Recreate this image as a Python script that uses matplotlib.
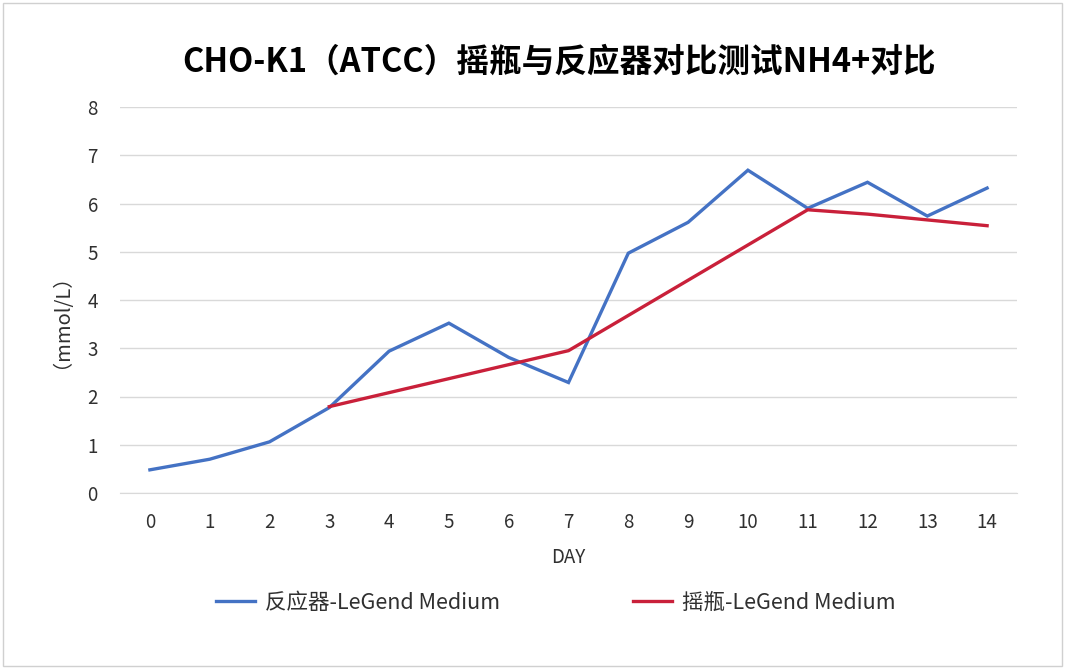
import matplotlib
matplotlib.use("Agg")
import matplotlib.pyplot as plt
import numpy as np
from matplotlib.patches import Rectangle

plt.rcParams["font.family"] = ["Noto Sans CJK SC", "DejaVu Sans"]

# data
days = list(range(15))
reactor = [0.48, 0.70, 1.06, 1.77, 2.94, 3.52, 2.81, 2.29, 4.97, 5.61,
           6.69, 5.90, 6.44, 5.74, 6.32]
flask_days = [3, 7, 11, 12, 13, 14]
flask = [1.79, 2.95, 5.87, 5.78, 5.66, 5.54]

title = "CHO-K1（ATCC）摇瓶与反应器对比测试NH4+对比"
reactor_label = "反应器-LeGend Medium"
flask_label = "摇瓶-LeGend Medium"

fig = plt.figure(figsize=(10.65, 6.69), dpi=100)
ax = fig.add_axes([120 / 1065, 1 - 493 / 669, 897 / 1065, 386 / 669])

# outer chart border
fig.patches.append(Rectangle((3 / 1065, 3 / 669), 1 - 6 / 1065, 1 - 6 / 669,
                             transform=fig.transFigure, fill=False,
                             edgecolor="#d0d0d0", linewidth=1))

ax.plot(days, reactor, color="#4472C4", linewidth=2.4, label=reactor_label,
        solid_joinstyle="miter")
ax.plot(flask_days, flask, color="#C9203A", linewidth=2.4, label=flask_label,
        solid_joinstyle="miter")

ax.set_xlim(-0.5, 14.5)
ax.set_ylim(0, 8)
ax.set_xticks(days)
ax.set_yticks(range(9))
ax.grid(axis="y", color="#d9d9d9", linewidth=1)
ax.set_axisbelow(True)
for side in ["top", "right", "left"]:
    ax.spines[side].set_visible(False)
ax.spines["bottom"].set_color("#d9d9d9")
ax.tick_params(axis="both", length=0, labelsize=13.5, colors="#303030")
ax.tick_params(axis="x", pad=14)
ax.tick_params(axis="y", pad=16)

ax.set_xlabel("DAY", fontsize=13.5, color="#303030", labelpad=10)
fig.text(52 / 1065, 1 - 311 / 669, "（mmol/L）", rotation=90, fontsize=14.5,
         color="#303030", ha="center", va="center")

fig.text(559 / 1065, 1 - 62 / 669, title, fontsize=23.5, fontweight="bold",
         color="#000000", ha="center", va="center")

fig.legend(loc="center", bbox_to_anchor=(556 / 1065, 1 - 603 / 669), ncol=2,
           frameon=False, fontsize=15.5, handlelength=1.8, columnspacing=6.2,
           handletextpad=0.45, labelcolor="#303030")

fig.savefig("out.png", dpi=100)
